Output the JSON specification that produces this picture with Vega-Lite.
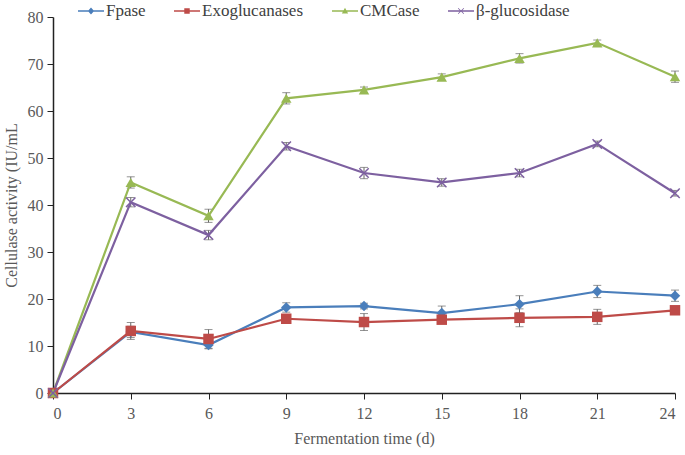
{
  "$schema": "https://vega.github.io/schema/vega-lite/v6.json",
  "width": 622,
  "height": 376,
  "autosize": "none",
  "padding": {"left": 53, "top": 17, "right": 10, "bottom": 62},
  "background": "white",
  "config": {
    "font": "Liberation Serif",
    "view": {"stroke": null},
    "axis": {"labelFont": "Liberation Serif", "titleFont": "Liberation Serif", "labelFontSize": 16, "titleFontSize": 16, "titleFontWeight": "normal", "labelColor": "#595959", "titleColor": "#595959", "domainColor": "#222", "tickColor": "#222", "grid": false, "domainWidth": 1.5},
    "legend": {"orient": "none", "legendX": 25, "legendY": -19, "direction": "horizontal", "title": null, "labelFont": "Liberation Serif", "labelFontSize": 17, "labelColor": "#404040", "symbolSize": 676, "columnPadding": 28, "labelOffset": 2}
  },
  "data": {
    "values": [
      {"t": 0, "s": "Fpase", "v": 0, "e": 0.3},
      {"t": 3, "s": "Fpase", "v": 13.0, "e": 1.2},
      {"t": 6, "s": "Fpase", "v": 10.2, "e": 0.8},
      {"t": 9, "s": "Fpase", "v": 18.2, "e": 1.0},
      {"t": 12, "s": "Fpase", "v": 18.5, "e": 0.6},
      {"t": 15, "s": "Fpase", "v": 17.0, "e": 1.5},
      {"t": 18, "s": "Fpase", "v": 18.9, "e": 1.8},
      {"t": 21, "s": "Fpase", "v": 21.6, "e": 1.3},
      {"t": 24, "s": "Fpase", "v": 20.7, "e": 1.2},
      {"t": 0, "s": "Exoglucanases", "v": 0, "e": 0.3},
      {"t": 3, "s": "Exoglucanases", "v": 13.2, "e": 1.8},
      {"t": 6, "s": "Exoglucanases", "v": 11.5, "e": 2.0},
      {"t": 9, "s": "Exoglucanases", "v": 15.8, "e": 0.6},
      {"t": 12, "s": "Exoglucanases", "v": 15.1, "e": 1.8},
      {"t": 15, "s": "Exoglucanases", "v": 15.6, "e": 0.6},
      {"t": 18, "s": "Exoglucanases", "v": 16.0, "e": 1.9},
      {"t": 21, "s": "Exoglucanases", "v": 16.2, "e": 1.6},
      {"t": 24, "s": "Exoglucanases", "v": 17.6, "e": 0.6},
      {"t": 0, "s": "CMCase", "v": 0, "e": 0.3},
      {"t": 3, "s": "CMCase", "v": 44.8, "e": 1.2},
      {"t": 6, "s": "CMCase", "v": 37.7, "e": 1.4},
      {"t": 9, "s": "CMCase", "v": 62.7, "e": 1.2},
      {"t": 12, "s": "CMCase", "v": 64.5, "e": 0.6},
      {"t": 15, "s": "CMCase", "v": 67.2, "e": 0.7},
      {"t": 18, "s": "CMCase", "v": 71.2, "e": 1.0},
      {"t": 21, "s": "CMCase", "v": 74.5, "e": 0.6},
      {"t": 24, "s": "CMCase", "v": 67.3, "e": 1.2},
      {"t": 0, "s": "β-glucosidase", "v": 0, "e": 0.3},
      {"t": 3, "s": "β-glucosidase", "v": 40.6, "e": 1.0},
      {"t": 6, "s": "β-glucosidase", "v": 33.6, "e": 1.0},
      {"t": 9, "s": "β-glucosidase", "v": 52.5, "e": 0.8},
      {"t": 12, "s": "β-glucosidase", "v": 46.8, "e": 1.2},
      {"t": 15, "s": "β-glucosidase", "v": 44.8, "e": 0.8},
      {"t": 18, "s": "β-glucosidase", "v": 46.8, "e": 0.8},
      {"t": 21, "s": "β-glucosidase", "v": 53.0, "e": 0.6},
      {"t": 24, "s": "β-glucosidase", "v": 42.5, "e": 0.6}
    ]
  },
  "encoding": {
    "x": {"field": "t", "type": "quantitative", "scale": {"domain": [0, 24], "nice": false}, "axis": {"values": [0, 3, 6, 9, 12, 15, 18, 21, 24], "title": "Fermentation time (d)", "tickSize": 6, "labelPadding": 6, "titlePadding": 9}},
    "y": {"field": "v", "type": "quantitative", "scale": {"domain": [0, 80], "nice": false}, "axis": {"values": [0, 10, 20, 30, 40, 50, 60, 70, 80], "title": "Cellulase activity (IU/mL", "tickSize": 6, "labelPadding": 4, "titlePadding": 8}}
  },
  "layer": [
    {
      "mark": {"type": "errorbar", "ticks": {"color": "#666", "size": 8}, "rule": {"color": "#666", "strokeWidth": 1}},
      "encoding": {
        "y": {"field": "v", "type": "quantitative", "title": "Cellulase activity (IU/mL"},
        "yError": {"field": "e"},
        "detail": {"field": "s"}
      }
    },
    {
      "mark": {"type": "line", "strokeWidth": 2.2},
      "encoding": {
        "color": {"field": "s", "type": "nominal", "title": null, "sort": ["Fpase", "Exoglucanases", "CMCase", "β-glucosidase"], "scale": {"domain": ["Fpase", "Exoglucanases", "CMCase", "β-glucosidase"], "range": ["#4a7ebb", "#be4b48", "#98b954", "#7d60a0"]},
          "legend": {"encode": {"symbols": {"update": {"strokeWidth": {"value": 0}, "fill": {"scale": "color", "field": "value"}, "shape": {"signal": "datum.value === 'Fpase' ? 'M-1,-0.05L1,-0.05L1,0.05L-1,0.05Z M0,-0.27L0.24,0L0,0.27L-0.24,0Z' : datum.value === 'Exoglucanases' ? 'M-1,-0.05L1,-0.05L1,0.05L-1,0.05Z M-0.21,-0.21L0.21,-0.21L0.21,0.21L-0.21,0.21Z' : datum.value === 'CMCase' ? 'M-1,-0.05L1,-0.05L1,0.05L-1,0.05Z M0,-0.25L0.24,0.19L-0.24,0.19Z' : 'M-1,-0.05L1,-0.05L1,0.05L-1,0.05Z M-0.24,-0.2L-0.2,-0.24L0,-0.04L0.2,-0.24L0.24,-0.2L0.04,0L0.24,0.2L0.2,0.24L0,0.04L-0.2,0.24L-0.24,0.2L-0.04,0Z'"}}}}}}
      }
    },
    {
      "transform": [{"filter": {"field": "s", "equal": "Fpase"}}],
      "mark": {"type": "point", "filled": true, "opacity": 1, "size": 110, "shape": "diamond", "color": "#4a7ebb"},
      "encoding": {}
    },
    {
      "transform": [{"filter": {"field": "s", "equal": "Exoglucanases"}}],
      "mark": {"type": "point", "filled": true, "opacity": 1, "size": 110, "shape": "square", "color": "#be4b48"},
      "encoding": {}
    },
    {
      "transform": [{"filter": {"field": "s", "equal": "CMCase"}}],
      "mark": {"type": "point", "filled": true, "opacity": 1, "size": 110, "shape": "triangle-up", "color": "#98b954"},
      "encoding": {}
    },
    {
      "transform": [{"filter": {"field": "s", "equal": "β-glucosidase"}}],
      "mark": {"type": "point", "filled": true, "opacity": 1, "size": 110, "shape": "M-1,-0.8L-0.8,-1L0,-0.2L0.8,-1L1,-0.8L0.2,0L1,0.8L0.8,1L0,0.2L-0.8,1L-1,0.8L-0.2,0Z", "color": "#7d60a0"},
      "encoding": {}
    }
  ]
}
